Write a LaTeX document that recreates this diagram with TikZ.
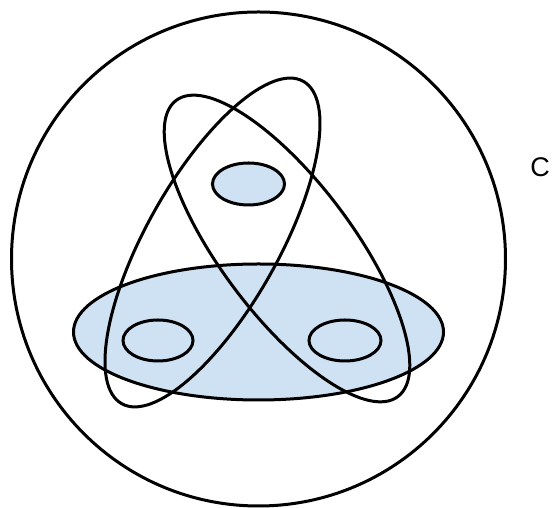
\documentclass[tikz,border=0pt]{standalone}
\usepackage{fontspec}
\setmainfont{Liberation Sans}
\usetikzlibrary{shapes.geometric}
\definecolor{setfill}{HTML}{CFE2F3}
\tikzset{
  setline/.style={draw=black, line width=3pt},
  oval/.style={setline, ellipse, inner sep=0pt, outer sep=0pt},
  filledoval/.style={oval, fill=setfill},
  loopoval/.style={oval, minimum width=370pt, minimum height=132pt}
}
\begin{document}
\begin{tikzpicture}[x=1pt,y=1pt]
\useasboundingbox (0,0) rectangle (558,508);
\node[oval, circle, minimum size=494pt] (outer) at (258.5,249) {};
\node[filledoval, minimum width=370pt, minimum height=136pt] (big) at (258.5,176) {};
\node[filledoval, minimum width=72pt, minimum height=42pt] (top) at (248.5,324) {};
\node[filledoval, minimum width=70pt, minimum height=41pt] (left) at (158,167.5) {};
\node[filledoval, minimum width=72pt, minimum height=41pt] (right) at (345,167.5) {};
\node[loopoval, rotate=-53.2] (loopA) at (287,259.5) {};
\node[loopoval, rotate=60.6] (loopB) at (212.5,265.5) {};
\node[font=\fontsize{27}{30}\selectfont] (label) at (540,341) {C};
\end{tikzpicture}
\end{document}
